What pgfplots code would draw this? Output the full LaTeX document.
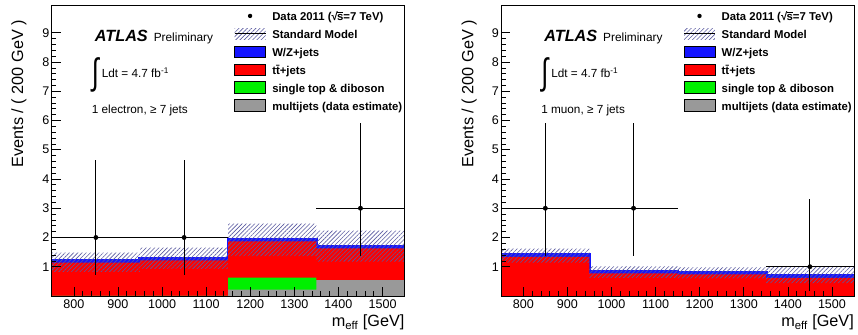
\documentclass[border=0pt]{standalone}
\usepackage{fontspec}
\setmainfont{Liberation Sans}
\usepackage{graphicx}
\usepackage{pgfplots}
\pgfplotsset{compat=1.18}
\usetikzlibrary{patterns.meta}
\definecolor{rootblue}{RGB}{20,20,255}
\definecolor{rootred}{RGB}{255,0,0}
\definecolor{rootgreen}{RGB}{0,240,0}
\definecolor{rootgray}{RGB}{153,153,153}
\definecolor{hatchcol}{RGB}{90,90,160}
\newcommand{\rts}{√\kern-0.06em\makebox[0pt][l]{\rule[0.70em]{0.55em}{0.07em}}s}
\newcommand{\fs}[1]{\fontsize{#1bp}{#1bp}\selectfont}
\pgfplotsset{
  atlas/.style={
    scale only axis, width=354bp, height=292bp,
    xmin=750, xmax=1550, ymin=0, ymax=9.95,
    xtick={800,900,...,1500}, ytick={1,2,...,9},
    minor x tick num=4, minor y tick num=4,
    tick align=inside, tick pos=left,
    major tick length=9bp, minor tick length=4.5bp,
    every tick/.style={black, line width=0.7bp},
    axis line style={black, line width=0.8bp},
    axis on top,
    ticklabel style={font=\fs{12.6}},
    /pgf/number format/assume math mode=true,
    /pgf/number format/1000 sep={},
    yticklabel style={xshift=1bp},
    legend style={at={(axis description cs:0,1)}, anchor=north west,
      xshift=183bp, yshift=-2bp, draw=none, fill=none,
      inner sep=0pt, outer sep=0pt, row sep=0pt, column sep=0pt,
      font=\bfseries\fs{11.4},
      nodes={inner xsep=6.3bp, inner ysep=4.5bp, text height=9bp, text depth=0bp}},
    legend cell align=left,
  },
  stk/.style={const plot, draw=none, forget plot},
  band/.style={const plot, forget plot, draw=none, stack plots=y,
    pattern={Lines[angle=45,distance=3bp,line width=0.6bp]}, pattern color=hatchcol},
  dat/.style={only marks, mark=*, mark size=2.2bp, black, forget plot,
    error bars/.cd, x dir=both, x explicit, y dir=both, y explicit,
    error bar style={line width=0.9bp, black}, error mark=none},
}
\newcommand{\atlaslegend}{%
  \addlegendimage{legend image code/.code={\path[draw=none] (0,-5.85bp) rectangle (31bp,5.85bp); \fill[black, draw=none] (15.5bp,0) circle (2.2bp);}}
  \addlegendentry{Data 2011 (\rts=7 TeV)}
  \addlegendimage{legend image code/.code={\fill[draw=none, pattern={Lines[angle=45,distance=3bp,line width=0.6bp]}, pattern color=hatchcol] (0,-5.85bp) rectangle (31bp,5.85bp); \draw[black, line width=0.9bp] (0,0) -- (31bp,0);}}
  \addlegendentry{Standard Model}
  \addlegendimage{legend image code/.code={\draw[fill=rootblue, draw=black, line width=0.8bp] (0,-5.85bp) rectangle (31bp,5.85bp);}}
  \addlegendentry{W/Z+jets}
  \addlegendimage{legend image code/.code={\draw[fill=rootred, draw=black, line width=0.8bp] (0,-5.85bp) rectangle (31bp,5.85bp);}}
  \addlegendentry{t\={t}+jets}
  \addlegendimage{legend image code/.code={\draw[fill=rootgreen, draw=black, line width=0.8bp] (0,-5.85bp) rectangle (31bp,5.85bp);}}
  \addlegendentry{single top \& diboson}
  \addlegendimage{legend image code/.code={\draw[fill=rootgray, draw=black, line width=0.8bp] (0,-5.85bp) rectangle (31bp,5.85bp);}}
  \addlegendentry{multijets (data estimate)}
}
\newcommand{\atlastext}[1]{%
  \node[anchor=base west, inner sep=0pt] at (rel axis cs:0.1215,0.873)
    {\fs{16.3}\bfseries\itshape ATLAS\hspace{6bp}\normalfont\fs{11.9}Preliminary};
  \node[anchor=base west, inner sep=0pt, font=\fs{11.8}] at (rel axis cs:0.113,0.75)
    {\raisebox{-7bp}{\resizebox{7bp}{27bp}{∫}}\hspace{3bp}Ldt = 4.7 fb\textsuperscript{-1}};
  \node[anchor=base west, inner sep=0pt, font=\fs{11.8}] at (rel axis cs:0.113,0.6267) {#1};
}
\begin{document}
\begin{tikzpicture}
\path (0,0) rectangle (858bp,336bp);
% ---------------- left: electron ----------------
\begin{axis}[atlas, at={(52bp,39bp)}, anchor=south west]
\addplot[stk, fill=rootblue, draw=rootblue, line width=3.4bp] coordinates {(750,1.20) (950,1.28) (1150,1.93) (1350,1.69) (1550,1.69)} \closedcycle;
\addplot[stk, fill=rootred] coordinates {(750,1.14) (950,1.22) (1150,1.87) (1350,1.63) (1550,1.63)} \closedcycle;
\addplot[stk, fill=rootgreen] coordinates {(750,0) (950,0) (1150,0.63) (1350,0.54) (1550,0.54)} \closedcycle;
\addplot[stk, fill=rootgray] coordinates {(750,0) (950,0) (1150,0.22) (1350,0.54) (1550,0.54)} \closedcycle;
% uncertainty band: lower edge, then band width on top of it
\addplot[stk, stack plots=y] coordinates {(750,0.82) (950,0.93) (1150,1.36) (1350,1.17) (1550,1.17)};
\addplot[band] coordinates {(750,0.66) (950,0.72) (1150,1.11) (1350,1.06) (1550,1.06)} \closedcycle;
\addplot[dat] coordinates {
  (850,2) += (100,2.638) -= (100,1.292)
  (1050,2) += (100,2.638) -= (100,1.292)
  (1450,3) += (100,2.918) -= (100,1.633)
};
\atlaslegend
\atlastext{1 electron, ≥ 7 jets}
\end{axis}
% ---------------- right: muon ----------------
\begin{axis}[atlas, at={(503bp,39bp)}, anchor=south west]
\addplot[stk, fill=rootblue, draw=rootblue, line width=3.4bp] coordinates {(750,1.40) (950,0.83) (1150,0.80) (1350,0.68) (1550,0.68)} \closedcycle;
\addplot[stk, fill=rootred] coordinates {(750,1.34) (950,0.77) (1150,0.74) (1350,0.62) (1550,0.62)} \closedcycle;
\addplot[stk, stack plots=y] coordinates {(750,1.14) (950,0.62) (1150,0.60) (1350,0.44) (1550,0.44)};
\addplot[band] coordinates {(750,0.48) (950,0.39) (1150,0.38) (1350,0.56) (1550,0.56)} \closedcycle;
\addplot[dat] coordinates {
  (850,3) += (100,2.918) -= (100,1.633)
  (1050,3) += (100,2.918) -= (100,1.633)
  (1450,1) += (100,2.300) -= (100,0.827)
};
\atlaslegend
\atlastext{1 muon, ≥ 7 jets}
\end{axis}
% axis titles
\node[rotate=90, anchor=base east, inner sep=0pt, font=\fs{16.3}] at (23.3bp,316bp) {Events / ( 200 GeV )};
\node[rotate=90, anchor=base east, inner sep=0pt, font=\fs{16.3}] at (475bp,316bp) {Events / ( 200 GeV )};
\node[anchor=base east, inner sep=0pt, font=\fs{16.3}] at (406bp,8bp) {m\textsubscript{eff} [GeV]};
\node[anchor=base east, inner sep=0pt, font=\fs{16.3}] at (857bp,8bp) {m\textsubscript{eff} [GeV]};
\end{tikzpicture}
\end{document}
